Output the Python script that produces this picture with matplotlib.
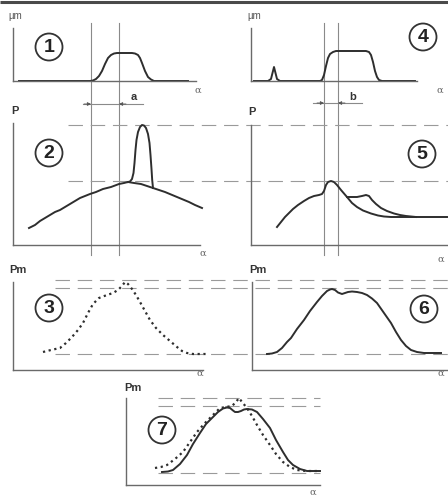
import matplotlib
matplotlib.use("Agg")
import matplotlib.pyplot as plt
from matplotlib.patches import Circle

W, H = 448, 495

# ---- curve data (panel-local units: alpha to the right, value upward) ----
p1_alpha = [6, 77, 80, 83, 86, 89, 92, 95, 98, 101, 104, 119, 122, 125, 127, 129, 132, 135, 138, 141, 175]
p1_val   = [0, 0, 0.5, 2, 5, 10, 17, 23, 26, 27.5, 28, 28, 27.5, 26, 23, 18, 10, 4, 1.5, 0, 0]

p4_alpha = [3, 17, 20, 21.5, 23, 24.5, 26, 29, 69, 71, 73, 75, 77, 79, 82, 85, 115, 118, 120, 122, 124, 126, 128, 131, 164]
p4_val   = [0, 0, 2, 8, 14, 8, 2, 0, 0, 1, 6, 15, 23, 27, 29, 30, 30, 29, 26, 19, 10, 4, 1, 0, 0]

p2_alpha = [16, 22, 27, 32, 37, 42, 47, 52, 57, 62, 67, 72, 77, 83, 90, 98, 106, 111, 115, 121, 128, 134, 140, 146, 152, 158, 164, 170, 176, 182, 189]
p2_val   = [17, 20, 24, 27, 30, 33, 35, 38, 41, 44, 47, 49, 51, 53, 56, 58, 61, 62, 63, 62, 61, 59, 57, 55, 53, 50.5, 48, 45.5, 43, 40, 37]
p2_peak_alpha = [115, 117, 119, 120.5, 121.5, 122.5, 123.5, 125, 127, 129, 131, 133, 135, 136.5, 137.5, 138.5, 139.2, 140]
p2_peak_val   = [63, 63.5, 66, 72, 82, 95, 105, 113, 118, 120, 119.5, 117, 111, 102, 90, 76, 65, 57]

p5_alpha = [26, 30, 34, 38, 42, 47, 53, 58, 63, 68, 71, 73, 75, 77, 80, 83, 86, 90, 96, 101, 106, 112, 120, 127, 133, 140, 153, 196]
p5_val   = [18, 23, 28, 32, 36, 40, 44, 47, 49, 50, 51, 54, 60, 63, 64, 63, 60, 55, 48, 42, 38, 34.5, 31.5, 29.5, 28.5, 28, 28, 28]
p5_alt_alpha = [96, 101, 106, 111, 115, 118, 121, 125, 130, 136, 143, 149, 155, 165]
p5_alt_val   = [48, 48, 48, 49, 50, 49, 45, 41, 37, 34, 31.5, 30, 29, 28]

p3_alpha = [30, 38, 47, 53, 59, 65, 70, 75, 80, 86, 94, 100, 105, 109, 112, 115, 119, 123, 127, 132, 137, 143, 150, 157, 164, 169, 174, 180, 194]
p3_val   = [18, 20, 22, 27, 33, 40, 47, 57, 66, 72, 75, 77, 80, 84, 88, 86, 81, 75, 68, 59, 50, 42, 35, 29, 23, 19, 17, 16, 16]

p6_alpha = [15, 20, 25, 30, 35, 39, 45, 52, 58, 65, 70, 75, 78, 80, 83, 86, 90, 93, 96, 100, 105, 110, 115, 120, 125, 132, 139, 144, 149, 154, 159, 165, 172, 180, 189]
p6_val   = [16, 16.5, 18, 22, 28, 32, 41, 50, 59, 68, 74, 79, 80.5, 81, 80, 77.5, 76, 77, 78, 78.5, 78, 77, 75, 71.5, 67, 57, 47, 38, 30, 24, 20, 18, 17, 17, 17]

p7_alpha = [36, 42, 47, 54, 61, 67, 74, 80, 87, 92, 97, 101, 104, 107, 109, 112, 115, 118, 121, 126, 131, 137, 144, 150, 157, 162, 167, 174, 181, 194]
p7_val   = [13, 13.5, 15, 21, 30, 41, 52, 61, 68, 73, 76.5, 77.5, 77, 74.5, 73, 73, 74, 75.5, 76, 75.5, 73, 66, 57, 45, 33, 25, 20, 16, 14, 14]
p7_dot_alpha = [29, 35, 41, 49, 57, 64, 71, 78, 84, 89, 94, 100, 106, 110, 113, 116, 121, 126, 131, 137, 144, 150, 157, 164, 171, 180, 194]
p7_dot_val   = [17, 18, 20, 26, 33, 43, 53, 61, 67, 72, 77, 78, 79, 83, 87, 83, 77, 69, 60, 50, 40, 31, 23, 18, 15, 14, 14]

numbers = ["1", "2", "3", "4", "5", "6", "7"]
ylabels = ["µm", "P", "Pm", "µm", "P", "Pm", "Pm"]

CURVE = "#2e2e2e"
AXC = "#6a6a6a"
GUIDE = "#8a8a8a"
DASH = "#9a9a9a"

fig = plt.figure(figsize=(W / 100, H / 100), dpi=100)
fig.patch.set_facecolor("white")

ov = fig.add_axes([0, 0, 1, 1])
ov.set_xlim(0, W)
ov.set_ylim(H, 0)
ov.axis("off")

# top border
ov.plot([0, W], [2, 2], color="#4a4a4a", lw=2.2, solid_capstyle="butt")

# vertical guide lines
for x in (91, 119, 324, 338):
    ov.plot([x, x], [23, 255], color=GUIDE, lw=0.8)

# dimension arrows
def dim(y, x1, x2, left, right):
    ov.plot([x1, x2], [y, y], color=GUIDE, lw=0.8)
    ov.annotate("", xy=(left, y), xytext=(left - 7, y),
                arrowprops=dict(arrowstyle="-|>", color="#555", lw=0.6,
                                mutation_scale=5, shrinkA=0, shrinkB=0))
    ov.annotate("", xy=(right, y), xytext=(right + 7, y),
                arrowprops=dict(arrowstyle="-|>", color="#555", lw=0.6,
                                mutation_scale=5, shrinkA=0, shrinkB=0))

dim(104, 83, 143, 91, 119)
dim(103, 313, 362, 324, 338)
ov.text(134, 97, "a", fontsize=8, fontweight="bold", color="#333",
        family="Liberation Sans", ha="center", va="center")
ov.text(353, 97, "b", fontsize=8, fontweight="bold", color="#333",
        family="Liberation Sans", ha="center", va="center")

# dashed reference lines
dash_style = dict(color=DASH, lw=0.8, linestyle=(0, (13, 7)))
for y in (125, 181):
    ov.plot([68, W], [y, y], **dash_style)
for y in (280, 288, 354):
    ov.plot([55, W], [y, y], **dash_style)
for y in (398, 406, 473):
    ov.plot([158, 320], [y, y], **dash_style)

# panels: (x0, ybase, width, height)
panels = [
    (13, 81, 183, 53),
    (13, 245, 187, 122),
    (13, 370, 190, 88),
    (251, 81, 166, 53),
    (251, 245, 197, 120),
    (252, 370, 196, 88),
    (126, 485, 194, 87),
]

axes = []
for (x0, yb, w, h) in panels:
    ax = fig.add_axes([x0 / W, (H - yb) / H, w / W, h / H])
    ax.set_xlim(0, w)
    ax.set_ylim(0, h)
    ax.patch.set_alpha(0)
    for s in ("top", "right"):
        ax.spines[s].set_visible(False)
    for s in ("left", "bottom"):
        ax.spines[s].set_color(AXC)
        ax.spines[s].set_linewidth(1.0)
    ax.set_xticks([])
    ax.set_yticks([])
    axes.append(ax)

a1, a2, a3, a4, a5, a6, a7 = axes
solid = dict(color=CURVE, lw=1.4, clip_on=False, solid_joinstyle="round")
dotted = dict(color=CURVE, lw=1.6, linestyle=(0, (1, 1.6)), clip_on=False)

a1.plot(p1_alpha, p1_val, **solid)
a4.plot(p4_alpha, p4_val, **solid)
a2.plot(p2_alpha, p2_val, **solid)
a2.plot(p2_peak_alpha, p2_peak_val, **solid)
a5.plot(p5_alpha, p5_val, **solid)
a5.plot(p5_alt_alpha, p5_alt_val, **solid)
a3.plot(p3_alpha, p3_val, **dotted)
a6.plot(p6_alpha, p6_val, **solid)
a7.plot(p7_alpha, p7_val, **solid)
a7.plot(p7_dot_alpha, p7_dot_val, **dotted)

# circled numbers
centers = [(49, 47), (49, 153), (49, 308), (423, 37), (422, 154), (424, 309), (162, 430)]
for (cx, cy), num in zip(centers, numbers):
    ov.add_patch(Circle((cx, cy), 13.5, fill=False, ec="#333", lw=1.3))
    ov.text(cx, cy + 0.5, num, fontsize=14, fontweight="bold", color="#222",
            family="Liberation Sans", ha="center", va="center")

# y-axis labels
ylab_pos = [(15, 16), (15, 111), (18, 270), (254, 16), (252, 112), (258, 270), (133, 388)]
for (x, y), lab in zip(ylab_pos, ylabels):
    if lab == "µm":
        ov.text(x, y, lab, fontsize=7, color="#555", family="Liberation Sans",
                ha="center", va="center")
    else:
        ov.text(x, y, lab, fontsize=8, fontweight="bold", color="#333",
                family="Liberation Sans", ha="center", va="center")

# alpha labels
alpha_pos = [(198, 90), (203, 253), (200, 373), (440, 90), (441, 259), (441, 373), (313, 492)]
for (x, y) in alpha_pos:
    ov.text(x, y, "α", fontsize=7, color="#666", family="DejaVu Serif",
            ha="center", va="center")

fig.savefig("out.png", dpi=100, facecolor="white")
